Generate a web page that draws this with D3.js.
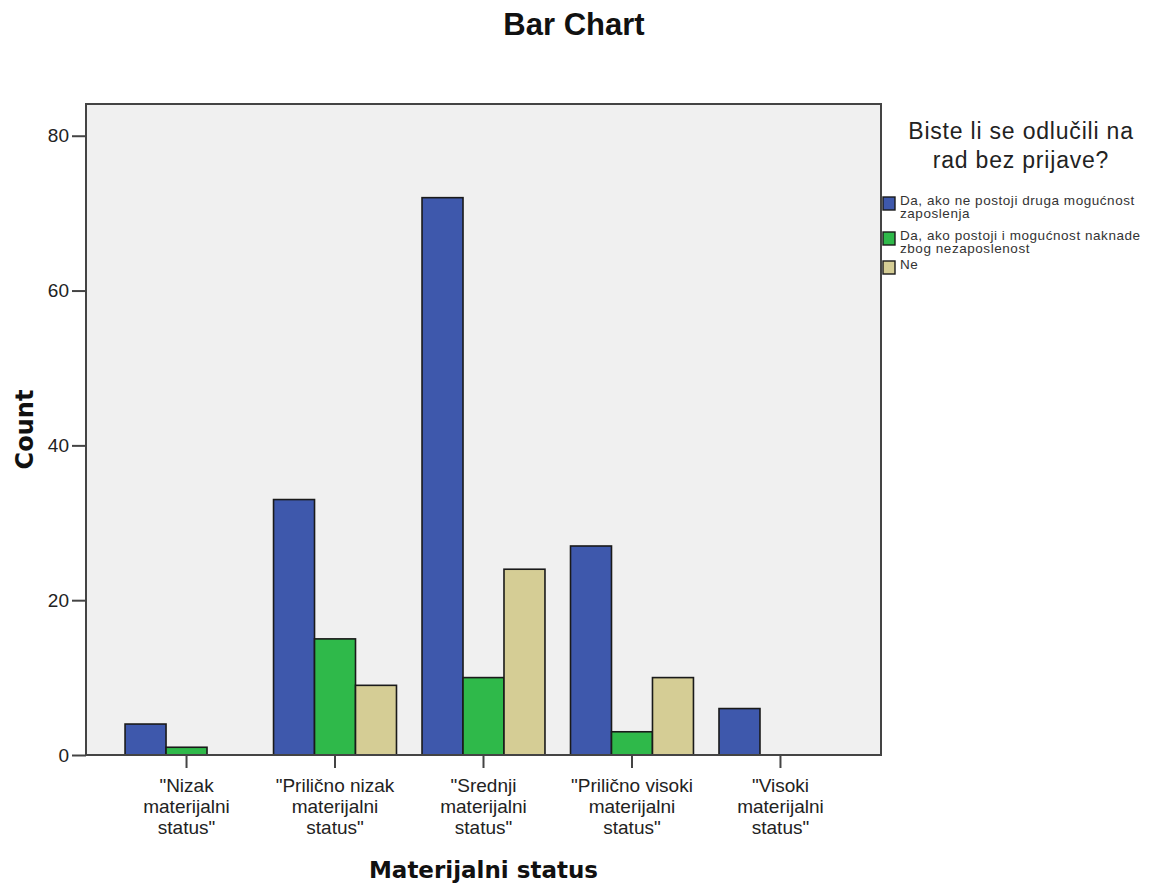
<!DOCTYPE html>
<html>
<head>
<meta charset="utf-8">
<script src="https://cdn.jsdelivr.net/npm/d3@7"></script>
<style>
  html, body { margin: 0; padding: 0; background: #fff; }
  svg { display: block; }
</style>
</head>
<body>
<svg id="chart" width="1156" height="890"></svg>
<script>
// ---- data ----
const categories = [
  '"Nizak\nmaterijalni\nstatus"',
  '"Prilično nizak\nmaterijalni\nstatus"',
  '"Srednji\nmaterijalni\nstatus"',
  '"Prilično visoki\nmaterijalni\nstatus"',
  '"Visoki\nmaterijalni\nstatus"'
];
const seriesNames = [
  "Da, ako ne postoji druga mogućnost\nzaposlenja",
  "Da, ako postoji i mogućnost naknade\nzbog nezaposlenost",
  "Ne"
];
const valuesDaNemaDruge = [4, 33, 72, 27, 6];
const valuesDaNaknada   = [1, 15, 10, 3, 0];
const valuesNe          = [0, 9, 24, 10, 0];
const yTicks = [0, 20, 40, 60, 80];
const seriesColors = ["#3e58ac", "#2fb94a", "#d5cd95"];

const seriesValues = [valuesDaNemaDruge, valuesDaNaknada, valuesNe];

// ---- layout ----
const svg = d3.select("#chart");
const plot = { left: 86, right: 881, top: 104, bottom: 755 };

const x = d3.scaleBand()
  .domain(categories)
  .range([plot.left, plot.right])
  .paddingInner(0.172)
  .paddingOuter(0.263);

const xInner = d3.scaleBand()
  .domain(d3.range(seriesNames.length))
  .range([0, x.bandwidth()]);

const y = d3.scaleLinear()
  .domain([0, 84.1])
  .range([plot.bottom, plot.top]);

// title
svg.append("text")
  .attr("x", 574).attr("y", 35)
  .attr("text-anchor", "middle")
  .attr("font-family", "'Liberation Sans', Arial, sans-serif")
  .attr("font-weight", "bold")
  .attr("font-size", 31)
  .attr("fill", "#111")
  .text("Bar Chart");

// plot background
svg.append("rect")
  .attr("x", plot.left).attr("y", plot.top)
  .attr("width", plot.right - plot.left)
  .attr("height", plot.bottom - plot.top)
  .attr("fill", "#f0f0f0");

// bars
const rows = [];
categories.forEach((c, ci) => {
  seriesValues.forEach((vals, si) => {
    rows.push({ cat: c, s: si, v: vals[ci] });
  });
});

svg.append("g").selectAll("rect")
  .data(rows.filter(d => d.v > 0))
  .join("rect")
  .attr("x", d => x(d.cat) + xInner(d.s))
  .attr("y", d => y(d.v))
  .attr("width", xInner.bandwidth())
  .attr("height", d => y(0) - y(d.v))
  .attr("fill", d => seriesColors[d.s])
  .attr("stroke", "#1a1a1a")
  .attr("stroke-width", 1.6);

// plot border
svg.append("rect")
  .attr("x", plot.left).attr("y", plot.top)
  .attr("width", plot.right - plot.left)
  .attr("height", plot.bottom - plot.top)
  .attr("fill", "none")
  .attr("stroke", "#444")
  .attr("stroke-width", 2);

// y axis
const yAxis = d3.axisLeft(y).tickValues(yTicks).tickSize(14).tickSizeOuter(0).tickPadding(3).tickFormat(d3.format("d"));
const gy = svg.append("g")
  .attr("transform", `translate(${plot.left},0)`)
  .call(yAxis);
gy.select(".domain").remove();
gy.selectAll(".tick line").attr("stroke", "#444").attr("stroke-width", 2);
gy.selectAll(".tick text")
  .attr("font-family", "'Liberation Sans', Arial, sans-serif")
  .attr("font-size", 19)
  .attr("fill", "#222");

// x axis
const xAxis = d3.axisBottom(x).tickSize(13).tickSizeOuter(0).tickFormat("");
const gx = svg.append("g")
  .attr("transform", `translate(0,${plot.bottom})`)
  .call(xAxis);
gx.select(".domain").remove();
gx.selectAll(".tick line").attr("stroke", "#444").attr("stroke-width", 2);
gx.selectAll(".tick").each(function(d) {
  const t = d3.select(this).append("text")
    .attr("text-anchor", "middle")
    .attr("font-family", "'Liberation Sans', Arial, sans-serif")
    .attr("font-size", 19)
    .attr("fill", "#222");
  d.split("\n").forEach((line, i) => {
    t.append("tspan").attr("x", 0).attr("y", 37 + i * 21).text(line);
  });
});

// axis titles
svg.append("text")
  .attr("x", (plot.left + plot.right) / 2).attr("y", 878)
  .attr("text-anchor", "middle")
  .attr("font-family", "'DejaVu Sans', Verdana, sans-serif")
  .attr("font-weight", "bold")
  .attr("font-size", 23)
  .attr("fill", "#111")
  .text("Materijalni status");

svg.append("text")
  .attr("transform", `translate(33,${(plot.top + plot.bottom) / 2}) rotate(-90)`)
  .attr("text-anchor", "middle")
  .attr("font-family", "'DejaVu Sans', Verdana, sans-serif")
  .attr("font-weight", "bold")
  .attr("font-size", 24)
  .attr("fill", "#111")
  .text("Count");

// legend
const legendTitle = svg.append("text")
  .attr("text-anchor", "middle")
  .attr("font-family", "'Liberation Sans', Arial, sans-serif")
  .attr("font-size", 23)
  .attr("letter-spacing", 0.8)
  .attr("fill", "#222");
["Biste li se odlučili na", "rad bez prijave?"].forEach((line, i) => {
  legendTitle.append("tspan").attr("x", 1021).attr("y", 139 + i * 29).text(line);
});

const legendTop = [197, 232, 261];
const lg = svg.append("g");
seriesNames.forEach((name, i) => {
  lg.append("rect")
    .attr("x", 883).attr("y", legendTop[i])
    .attr("width", 12).attr("height", 13)
    .attr("fill", seriesColors[i])
    .attr("stroke", "#1a1a1a")
    .attr("stroke-width", 1.4);
  const t = lg.append("text")
    .attr("font-family", "'Liberation Sans', Arial, sans-serif")
    .attr("font-size", 13.5)
    .attr("letter-spacing", 0.55)
    .attr("fill", "#333");
  name.split("\n").forEach((line, j) => {
    t.append("tspan").attr("x", 900).attr("y", legendTop[i] + 8 + j * 13).text(line);
  });
});
</script>
</body>
</html>
